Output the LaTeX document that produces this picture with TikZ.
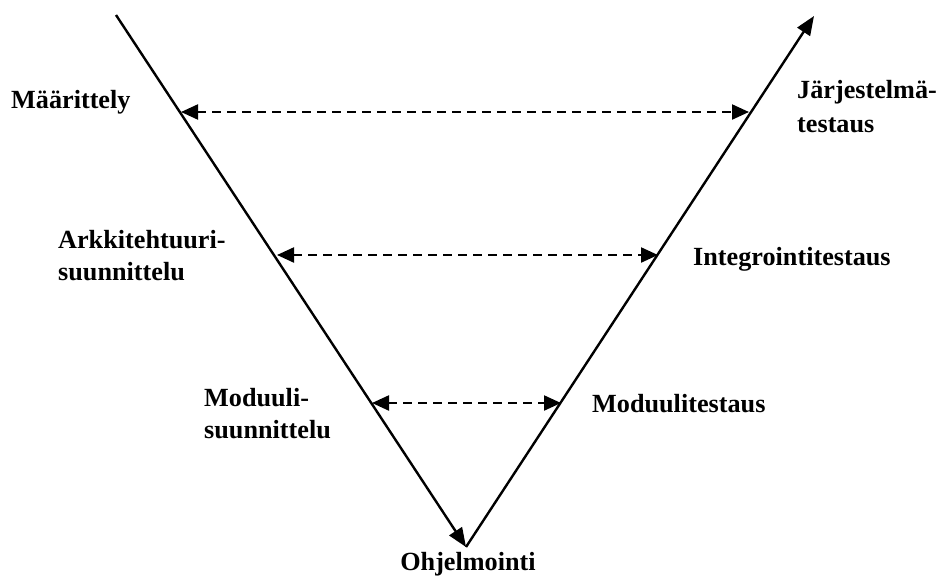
\documentclass[tikz,border=0pt]{standalone}
\usepackage{fontspec}
\setmainfont{Liberation Serif}
\usetikzlibrary{arrows.meta}
\begin{document}
\begin{tikzpicture}[x=1pt,y=-1pt,
  lbl/.style={inner sep=0pt,anchor=base west,font=\bfseries\fontsize{26.2}{32}\selectfont},
  vline/.style={line width=2.4pt,-{Triangle[length=19pt,width=15pt]}},
  dline/.style={line width=2.2pt,dash pattern=on 9pt off 6pt,{Triangle[length=17pt,width=15pt]}-{Triangle[length=17pt,width=15pt]}}]
\useasboundingbox (0,0) rectangle (942,581);
\coordinate (A) at (116,15);
\coordinate (V) at (466,547);
\coordinate (B) at (814,16);
\draw[vline] (A) -- (V);
\draw[vline] (V) -- (B);
\coordinate (d1l) at (181,112);
\coordinate (d1r) at (749,112);
\coordinate (d2l) at (277,255);
\coordinate (d2r) at (658,255);
\coordinate (d3l) at (372,403);
\coordinate (d3r) at (561,403);
\draw[dline] (d1l) -- (d1r);
\draw[dline] (d2l) -- (d2r);
\draw[dline] (d3l) -- (d3r);
\node[lbl] (maar) at (11,108) {Määrittely};
\node[lbl] (jar1) at (797,98) {Järjestelmä-};
\node[lbl] (jar2) at (797,132) {testaus};
\node[lbl] (ark1) at (58,248) {Arkkitehtuuri-};
\node[lbl] (ark2) at (58,280) {suunnittelu};
\node[lbl] (int) at (693,265) {Integrointitestaus};
\node[lbl] (mod1) at (204,406) {Moduuli-};
\node[lbl] (mod2) at (204,438) {suunnittelu};
\node[lbl] (modt) at (592,412) {Moduulitestaus};
\node[lbl,anchor=base] (ohj) at (468,570) {Ohjelmointi};
\end{tikzpicture}
\end{document}
